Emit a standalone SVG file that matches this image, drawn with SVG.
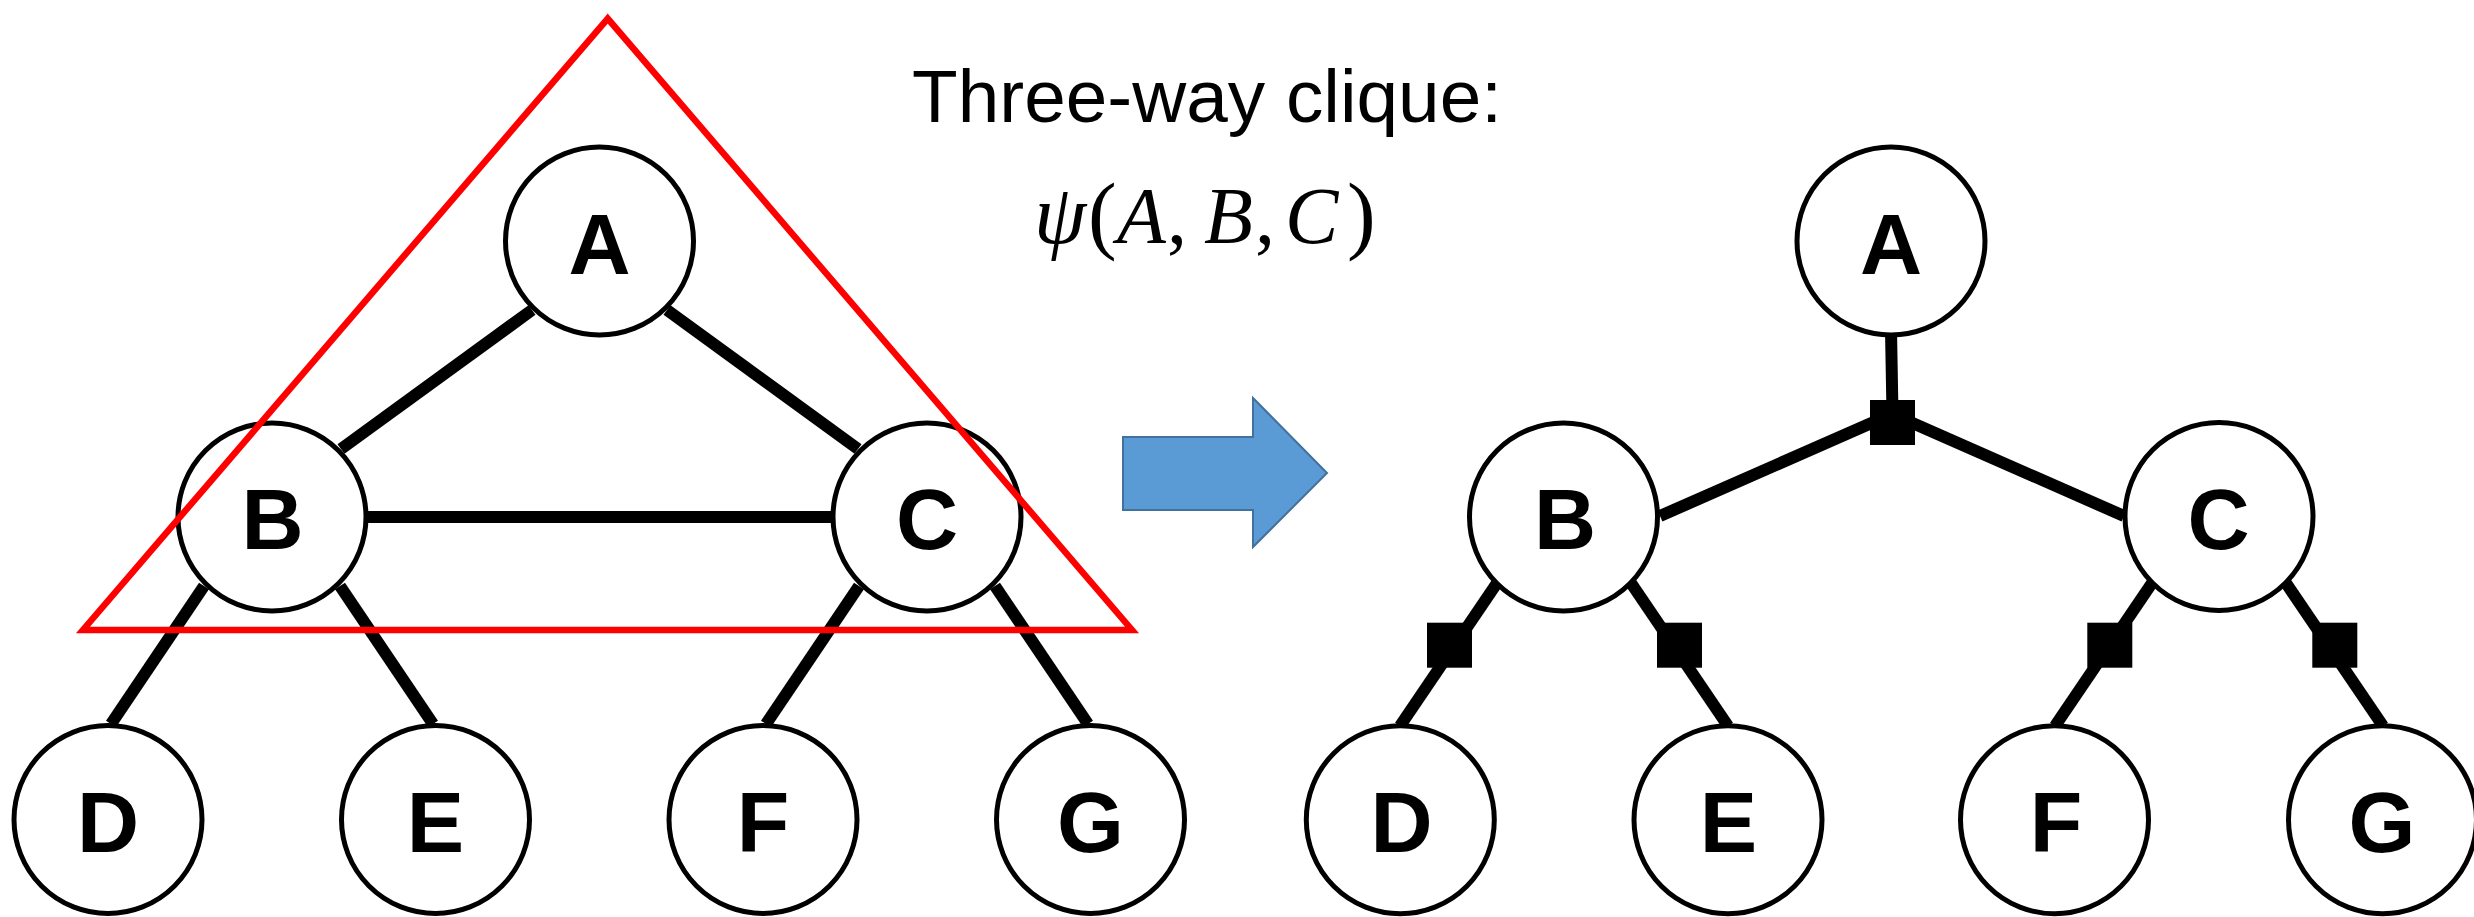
<svg xmlns="http://www.w3.org/2000/svg" width="2474" height="917" viewBox="0 0 2474 917">
<style>
.node circle{fill:#fff;stroke:#000;stroke-width:5}
.node text{font-family:"Liberation Sans",Arial,sans-serif;font-weight:bold;font-size:86px;text-anchor:middle;fill:#000}
.edge{stroke:#000;stroke-width:12;fill:none}
.factor{fill:#000}
.title{font-family:"Liberation Sans",Arial,sans-serif;font-size:74px;fill:#000}
.math{font-family:"Liberation Serif","Times New Roman",serif;font-size:80px;fill:#000}
.it{font-style:italic}
.par{font-size:86px}
</style>
<rect width="2474" height="917" fill="#fff"/>

<!-- Left graph connectors -->
<g id="left-edges">
<line class="edge" x1="532" y1="310" x2="341" y2="449"/>
<line class="edge" x1="667" y1="310" x2="858" y2="449"/>
<line class="edge" x1="366" y1="517" x2="833" y2="517"/>
<line class="edge" x1="204" y1="586" x2="111" y2="724"/>
<line class="edge" x1="340" y1="586" x2="433" y2="724"/>
<line class="edge" x1="859" y1="586" x2="766" y2="724"/>
<line class="edge" x1="995" y1="586" x2="1088" y2="724"/>
</g>

<!-- Left graph nodes -->
<g id="L-A" class="node"><circle cx="599.5" cy="241" r="94"/><text x="599.5" y="274">A</text></g>
<g id="L-B" class="node"><circle cx="272" cy="517" r="94"/><text x="272.5" y="549">B</text></g>
<g id="L-C" class="node"><circle cx="927" cy="517" r="94"/><text x="927" y="549">C</text></g>
<g id="L-D" class="node"><circle cx="108" cy="819.5" r="94"/><text x="108" y="851.5">D</text></g>
<g id="L-E" class="node"><circle cx="435.5" cy="819.5" r="94"/><text x="435.5" y="851.5">E</text></g>
<g id="L-F" class="node"><circle cx="763" cy="819.5" r="94"/><text x="763" y="851.5">F</text></g>
<g id="L-G" class="node"><circle cx="1090.5" cy="819.5" r="94"/><text x="1090.5" y="851.5">G</text></g>

<!-- Clique triangle -->
<g id="clique">
<polygon points="607.7,18.6 83,630 1132,630" fill="none" stroke="#FF0000" stroke-width="6.5"/>
</g>

<!-- Title texts -->
<g id="label">
<text class="title" x="912" y="122" textLength="590" lengthAdjust="spacingAndGlyphs">Three-way clique:</text>
<text class="math" y="243"><tspan class="it" x="1034" style="font-size:84px">ψ</tspan><tspan class="par" x="1088">(</tspan><tspan class="it" x="1117">A</tspan><tspan x="1167">,</tspan><tspan class="it" x="1204">B</tspan><tspan x="1255">,</tspan><tspan class="it" x="1285">C</tspan><tspan class="par" x="1347">)</tspan></text>
</g>

<!-- Transform arrow -->
<g id="arrow">
<polygon points="1123,437 1253,437 1253,398 1327,473 1253,547 1253,510 1123,510" fill="#5B9BD5" stroke="#41719C" stroke-width="2"/>
</g>

<!-- Right graph connectors -->
<g id="right-edges">
<line class="edge" x1="1891" y1="330" x2="1892.5" y2="414"/>
<line class="edge" x1="1660" y1="516" x2="1892" y2="414"/>
<line class="edge" x1="1892" y1="414" x2="2124" y2="516"/>
<line class="edge" x1="1497" y1="583" x2="1400" y2="726"/>
<line class="edge" x1="1631" y1="583" x2="1728" y2="726"/>
<line class="edge" x1="2152" y1="583" x2="2055" y2="726"/>
<line class="edge" x1="2286" y1="583" x2="2383" y2="726"/>
</g>

<!-- Factor nodes -->
<g id="F-ABC"><rect class="factor" x="1870" y="400" width="45" height="45"/></g>
<g id="F-BD"><rect class="factor" x="1427" y="622.7" width="45" height="45"/></g>
<g id="F-BE"><rect class="factor" x="1657" y="622.7" width="45" height="45"/></g>
<g id="F-CF"><rect class="factor" x="2087.3" y="622.7" width="45" height="45"/></g>
<g id="F-CG"><rect class="factor" x="2312.3" y="622.7" width="45" height="45"/></g>

<!-- Right graph nodes -->
<g id="R-A" class="node"><circle cx="1891" cy="241" r="94"/><text x="1891" y="274">A</text></g>
<g id="R-B" class="node"><circle cx="1563.5" cy="517" r="94"/><text x="1565" y="549">B</text></g>
<g id="R-C" class="node"><circle cx="2219" cy="516.5" r="94"/><text x="2218.5" y="548.5">C</text></g>
<g id="R-D" class="node"><circle cx="1400.3" cy="819.7" r="94"/><text x="1401.5" y="851.7">D</text></g>
<g id="R-E" class="node"><circle cx="1728" cy="819.7" r="94"/><text x="1728.5" y="851.7">E</text></g>
<g id="R-F" class="node"><circle cx="2054.5" cy="819.7" r="94"/><text x="2056" y="851.7">F</text></g>
<g id="R-G" class="node"><circle cx="2382.5" cy="819.7" r="94"/><text x="2382" y="851.7">G</text></g>
</svg>
